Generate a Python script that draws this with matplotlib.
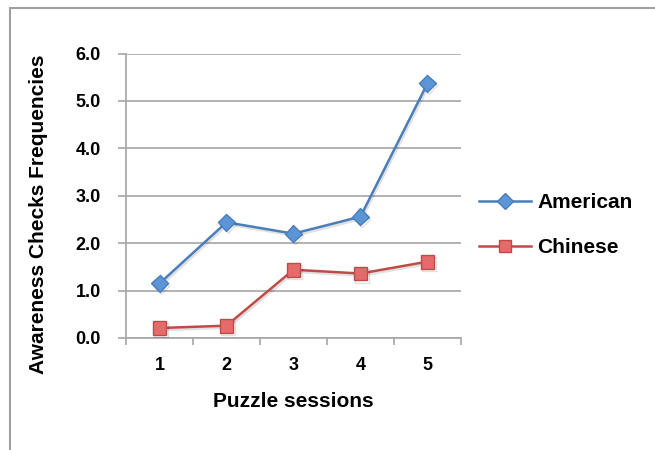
import matplotlib
matplotlib.use("Agg")
import matplotlib.pyplot as plt
import matplotlib.patheffects as pe
from matplotlib.patches import Rectangle
from matplotlib.lines import Line2D

sessions = ["1", "2", "3", "4", "5"]
american = [1.15, 2.44, 2.20, 2.56, 5.37]
chinese = [0.21, 0.26, 1.44, 1.36, 1.61]
yticks = [0.0, 1.0, 2.0, 3.0, 4.0, 5.0, 6.0]

plt.rcParams['font.family'] = ['Liberation Sans', 'DejaVu Sans']

fig = plt.figure(figsize=(6.55, 4.5), dpi=100)
# plot area: x 126..461 px, y 53.5..338 px
ax = fig.add_axes([126 / 655, 1 - 338 / 450, 335 / 655, 284.5 / 450])

grid_c = "#A6A6A6"
x = list(range(1, len(sessions) + 1))
shadow = [pe.SimpleLineShadow(offset=(1.0, -1.5), alpha=0.12), pe.Normal()]
ax.plot(x, american, color="#4A7EBB", lw=1.8, marker="D", ms=8.5,
        mfc="#5B95D6", mec="#4A7EBB", mew=1, zorder=3, path_effects=shadow)
ax.plot(x, chinese, color="#BE4B48", lw=1.8, marker="s", ms=10,
        mfc="#E36C6A", mec="#BE4B48", mew=1, zorder=3, path_effects=shadow)

ax.set_xlim(0.5, len(sessions) + 0.5)
ax.set_ylim(0, 6)
ax.set_yticks(yticks)
ax.set_yticklabels([f"{v:.1f}" for v in yticks], fontsize=13, fontweight="bold")
ax.set_xticks(x)
ax.set_xticklabels(sessions, fontsize=13, fontweight="bold")
ax.set_xticks([i + 0.5 for i in range(0, len(sessions) + 1)], minor=True)
ax.tick_params(axis="x", which="major", length=0, pad=14)
ax.tick_params(axis="x", which="minor", length=5, color=grid_c, width=1.2)
ax.tick_params(axis="y", length=6, color=grid_c, width=1.2, pad=12)

ax.yaxis.grid(True, color=grid_c, lw=1.2)
ax.set_axisbelow(True)
for s in ["top", "right"]:
    ax.spines[s].set_visible(False)
for s in ["left", "bottom"]:
    ax.spines[s].set_color(grid_c)
    ax.spines[s].set_linewidth(1.2)

ax.set_xlabel("Puzzle sessions", fontsize=15, fontweight="bold")
ax.xaxis.set_label_coords(0.5, (338 - 402) / 284.5)
ax.set_ylabel("Awareness Checks Frequencies", fontsize=15, fontweight="bold")
ax.yaxis.set_label_coords((39 - 126) / 335, (338 - 214) / 284.5)
ax.yaxis.label.set_va("center")
ax.xaxis.label.set_va("center")

handles = [
    Line2D([], [], color="#4A7EBB", lw=1.8, marker="D", ms=8, mfc="#5B95D6", mec="#4A7EBB"),
    Line2D([], [], color="#BE4B48", lw=1.8, marker="s", ms=9, mfc="#E36C6A", mec="#BE4B48"),
]
fig.legend(handles, ["American", "Chinese"], loc="center left",
           bbox_to_anchor=(479 / 655, 1 - 225 / 450), frameon=False,
           prop={"weight": "bold", "size": 15}, handlelength=2.5,
           labelspacing=1.25, handletextpad=0.3, borderpad=0, borderaxespad=0)

fig.patches.append(Rectangle((10 / 655, -0.1), 1.2, 1 - 8 / 450 + 0.1,
                             transform=fig.transFigure, fill=False,
                             edgecolor="#A0A0A0", lw=1.5))

fig.savefig("out.png", dpi=100)
